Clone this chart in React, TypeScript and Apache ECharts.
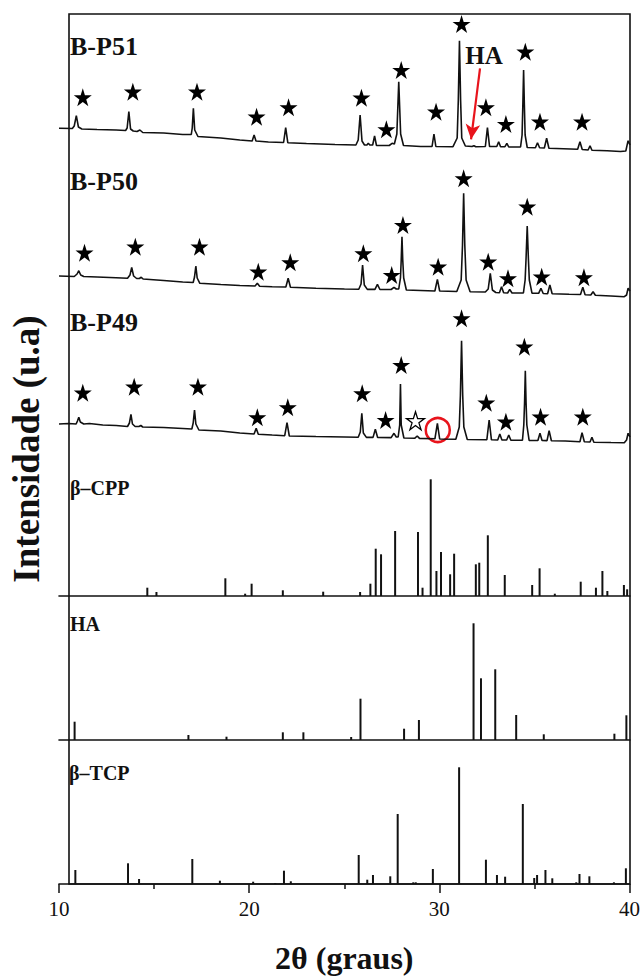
import { useEffect, useRef } from 'react';
import * as echarts from 'echarts';

const SERIF = '"Liberation Serif", "Times New Roman", serif';

// X axis (2θ, degrees)
const X_MIN = 10;
const X_MAX = 40;
const X_TICK = 10;

// Sample traces: [2θ, intensity (a.u.) relative to each trace's own reference]
const p51Profile: number[][] = [
  [10.0,31.7],[10.7,31.5],[10.8,34],[10.91,44.3],[11.02,33],[11.2,31],[12.0,30.5],[13.0,30],[13.5,29.5],[13.58,32],[13.67,48.3],[13.76,31],[13.9,29],[14.1,28.5],[14.25,30],[14.4,27.5],[15.5,27],[16.5,25.5],[16.95,25.5],[17.0,32],[17.06,51.7],[17.13,30],[17.3,23.5],[18.5,22],[19.5,20],[20.15,19],[20.25,25],[20.35,19],[21.0,18],[21.8,17.5],[21.91,32.3],[22.02,17.3],[23.0,16.5],[24.5,15.5],[25.6,15],[25.72,20],[25.82,45],[25.92,19],[26.05,15],[26.18,15],[26.25,16.7],[26.33,15],[26.48,15],[26.58,24],[26.68,14.5],[27.35,14.5],[27.5,16.7],[27.62,16],[27.75,26],[27.85,78.3],[27.95,26],[28.1,14.5],[29.0,13.5],[29.6,13.5],[29.7,26],[29.8,13.5],[30.7,13.3],[30.92,22],[30.98,60],[31.04,119.3],[31.1,60],[31.16,22],[31.35,14],[31.7,13.5],[31.8,14.3],[31.9,13.3],[32.4,13.5],[32.51,32.3],[32.62,13.5],[33.0,13.5],[33.1,18.3],[33.2,13.3],[33.43,13.3],[33.53,16.7],[33.63,13],[34.25,13],[34.33,25],[34.37,55],[34.41,90],[34.45,55],[34.49,25],[34.6,12.5],[35.03,12.3],[35.14,17.3],[35.25,12.2],[35.5,12],[35.62,21.7],[35.74,11.8],[36.5,11.3],[37.25,10.7],[37.37,18.3],[37.49,10.5],[37.8,10],[37.9,14.3],[38.0,9.7],[38.8,9.2],[39.5,8.5],[39.78,9],[39.9,19.3],[40.0,15]
];
const p50Profile: number[][] = [
  [10.0,24],[10.8,23.5],[10.95,26],[11.04,29.3],[11.14,25],[11.3,23.5],[12.0,23],[13.0,22.3],[13.6,21.8],[13.73,25],[13.82,32.7],[13.92,24],[14.08,21.5],[14.22,21.5],[14.32,22.7],[14.42,21],[15.5,19.5],[16.5,18],[17.05,17.5],[17.12,23],[17.19,34],[17.26,22],[17.4,16.7],[18.5,15.5],[19.5,14.5],[20.3,14],[20.42,16.7],[20.54,13.8],[21.2,13.3],[21.92,13],[22.04,21.7],[22.16,12.8],[23.5,11.8],[25.0,11],[25.75,10.7],[25.87,16],[25.95,35],[26.04,15],[26.2,10.6],[26.6,10.6],[26.73,15.7],[26.86,10.5],[27.45,10.5],[27.6,12.7],[27.72,11],[27.85,11],[27.94,22],[27.98,40],[28.02,63.3],[28.06,40],[28.11,22],[28.25,10],[29.0,9.5],[29.75,9],[29.88,20.7],[30.0,9],[30.9,8.5],[31.13,20],[31.2,55],[31.26,106.7],[31.32,55],[31.39,20],[31.6,8.3],[32.4,8],[32.55,11],[32.66,26.7],[32.77,10],[32.95,7.5],[33.14,7.3],[33.25,13.3],[33.36,7.2],[33.57,7],[33.68,10.7],[33.8,7],[34.4,7],[34.49,20],[34.54,42],[34.6,74],[34.66,42],[34.71,20],[34.85,6.8],[35.2,6.7],[35.32,11.7],[35.44,6.5],[35.67,6.3],[35.79,15],[35.91,6.2],[36.8,5.7],[37.4,5.5],[37.52,12.7],[37.64,5.3],[37.94,5],[38.06,8.3],[38.18,4.8],[39.0,4],[39.7,3.3],[39.82,5],[39.9,11.7],[40.0,9]
];
const p49Profile: number[][] = [
  [10.0,21],[10.5,21.5],[10.9,21],[10.97,24],[11.04,27.7],[11.12,23],[11.3,21],[11.6,21.5],[12.3,20],[13.0,19.5],[13.6,18.5],[13.7,22],[13.78,30.7],[13.86,21],[14.0,18.5],[14.2,18.5],[14.3,19.5],[14.4,18],[15.5,17.5],[16.5,16.5],[16.98,16],[17.05,22],[17.12,35],[17.19,21],[17.35,15],[18.5,14],[19.5,12],[20.25,11],[20.36,16.7],[20.47,10.8],[21.2,10],[21.86,9.3],[21.98,22.3],[22.1,9],[23.5,8.5],[25.0,8],[25.72,7.7],[25.83,13],[25.91,31.7],[25.99,12],[26.15,7.6],[26.5,7.6],[26.62,15.7],[26.74,7.5],[27.45,7.4],[27.6,11.7],[27.72,8],[27.82,8],[27.9,20],[27.94,61],[27.98,20],[28.12,7],[28.7,6.8],[28.82,9],[28.94,6.6],[29.75,6.2],[29.88,21.7],[30.0,6],[30.85,5.7],[31.03,18],[31.09,50],[31.15,104.3],[31.21,50],[31.27,18],[31.45,5.5],[32.48,5.3],[32.6,25],[32.72,5.2],[33.05,5],[33.16,11],[33.27,5],[33.52,5],[33.63,10],[33.74,4.8],[34.35,4.8],[34.42,20],[34.46,42],[34.5,74.3],[34.54,42],[34.58,20],[34.7,4.6],[35.16,4.5],[35.27,11.7],[35.38,4.5],[35.64,4.4],[35.75,14.3],[35.87,4.2],[36.6,4],[37.37,3.3],[37.48,12.3],[37.6,3.2],[37.9,3],[38.0,7.7],[38.1,2.8],[39.0,2.5],[39.7,2.3],[39.82,5],[39.9,11.7],[40.0,8]
];

// Star markers (β-TCP phase) per trace: [2θ, intensity]
const p51Stars: number[][] = [[11.25,62.7],[13.88,68.3],[17.25,68.3],[20.38,43.3],[22.06,52.7],[25.89,62.3],[27.2,30.7],[27.98,90],[29.81,48.3],[31.15,136],[32.43,52.7],[33.48,36],[34.5,108.3],[35.27,38.3],[37.48,38.3]];
const p50Stars: number[][] = [[11.34,47.3],[14.01,53.3],[17.38,53.3],[20.47,28.3],[22.15,37.7],[25.99,46.7],[27.48,25],[28.07,75],[29.92,33.3],[31.26,121.7],[32.55,38.3],[33.59,21.7],[34.6,93.3],[35.36,23.3],[37.58,22.7]];
const p49Stars: number[][] = [[11.25,52.3],[13.95,58.3],[17.3,58.3],[20.42,27.7],[22.02,37.7],[25.93,51.7],[27.16,25],[27.98,80],[31.15,126.7],[32.45,42.3],[33.48,23.3],[34.45,98.3],[35.3,28.3],[37.52,28.3]];
const p49OpenStars: number[][] = [[28.73,24.3]];
const p49Circled: number[][] = [[29.9,15]];
// HA arrow on B-P51: from / to [2θ, intensity]
const p51HaArrow: number[][] = [[32.12,91.7],[31.65,20.7]];

// Reference patterns: [2θ, relative intensity]
const cppSticks: number[][] = [[14.64,8.3],[15.12,4],[18.74,17.7],[19.78,2.3],[20.12,12.3],[21.76,5.7],[23.88,4.3],[25.82,4],[26.36,12.3],[26.64,47.3],[26.92,41.7],[27.66,65],[28.86,64],[29.1,8.3],[29.53,116.7],[29.83,25],[30.07,44],[30.55,21.7],[30.76,42.3],[31.9,31.7],[32.08,33.3],[32.53,60.7],[33.42,21],[34.86,11],[35.25,27.7],[36.05,2.3],[37.41,14.3],[38.21,8.3],[38.55,25],[38.81,5],[39.68,11],[39.85,6.7]];
const haSticks: number[][] = [[10.82,18.3],[16.8,5],[18.8,3.3],[21.76,7.7],[22.84,7.7],[25.35,3],[25.84,41.3],[28.13,11.3],[28.91,20],[31.78,116.7],[32.17,61.7],[32.92,70.7],[34.02,25],[35.47,5.7],[39.18,6.3],[39.81,24.7]];
const tcpSticks: number[][] = [[10.86,14],[13.63,20.7],[14.21,5],[17.01,25],[18.46,3.3],[20.21,2.3],[21.37,1],[21.83,13.3],[22.19,2.7],[25.76,29],[26.21,4.3],[26.51,9],[27.42,7.7],[27.81,70],[28.63,1.7],[28.76,1.7],[29.66,15],[31.04,116.7],[32.45,24.3],[33.03,9],[33.46,7.3],[34.39,80],[34.99,6],[35.14,9],[35.58,14],[35.94,5.7],[37.2,1.7],[37.37,10],[37.89,7.7],[39.18,1.7],[39.81,15.7]];

// vertical stacking offsets for the sample traces
const OFFSETS = { p51: 310, p50: 170, p49: 25 };

const STAR = 'path://M50 0 L61.23 34.55 L97.55 34.55 L68.17 55.9 L79.39 90.45 L50 69.1 L20.61 90.45 L31.83 55.9 L2.45 34.55 L38.77 34.55 Z';

const LEFT = 59;
const RIGHT = 13;

function shift(arr: number[][], off: number) {
  return arr.map(([x, y]) => [x, y + off]);
}

function hiddenX(gridIndex: number) {
  return { type: 'value', gridIndex, min: X_MIN, max: X_MAX, interval: X_TICK, show: false };
}
function hiddenY(gridIndex: number, max: number) {
  return { type: 'value', gridIndex, min: 0, max, show: false };
}
function baselineX(gridIndex: number) {
  return {
    type: 'value', gridIndex, min: X_MIN, max: X_MAX, interval: X_TICK,
    axisLine: { show: true, onZero: false, lineStyle: { color: '#111', width: 1.6 } },
    axisTick: { show: false }, axisLabel: { show: false }, splitLine: { show: false },
  };
}

const lineStyle = { color: '#111', width: 1.6 };
const starStyle = { color: '#000', opacity: 1 };

const option: any = {
  animation: false,
  backgroundColor: '#fff',
  grid: [
    { left: LEFT, right: RIGHT, top: 14, bottom: 95, show: true, borderColor: '#111', borderWidth: 1.6, backgroundColor: 'transparent' },
    { left: LEFT, right: RIGHT, top: 14, height: 456 },
    { left: LEFT, right: RIGHT, top: 470, height: 126 },
    { left: LEFT, right: RIGHT, top: 596, height: 144 },
    { left: LEFT, right: RIGHT, top: 740, height: 144 },
  ],
  xAxis: [
    hiddenX(0),
    hiddenX(1),
    baselineX(2),
    baselineX(3),
    {
      type: 'value', gridIndex: 4, min: X_MIN, max: X_MAX, interval: X_TICK,
      axisLine: { show: true, onZero: false, lineStyle: { color: '#111', width: 1.6 } },
      axisTick: { show: true, inside: false, length: 9, lineStyle: { color: '#111', width: 1.5 } },
      minorTick: { show: true, splitNumber: 2, length: 5, lineStyle: { color: '#111', width: 1.5 } },
      axisLabel: { show: true, fontFamily: SERIF, fontSize: 21, color: '#111', margin: 14 },
      splitLine: { show: false },
      minorSplitLine: { show: false },
      name: '2θ (graus)',
      nameLocation: 'middle',
      nameGap: 58,
      nameTextStyle: { fontFamily: SERIF, fontWeight: 'bold', fontSize: 32, color: '#111' },
    },
  ],
  yAxis: [
    {
      type: 'value', gridIndex: 0, min: 0, max: 1,
      axisLine: { show: false }, axisTick: { show: false }, axisLabel: { show: false }, splitLine: { show: false },
      name: 'Intensidade (u.a)',
      nameLocation: 'middle',
      nameGap: 24,
      nameTextStyle: { fontFamily: SERIF, fontWeight: 'bold', fontSize: 37, color: '#111' },
    },
    hiddenY(1, 456),
    hiddenY(2, 126),
    hiddenY(3, 144),
    hiddenY(4, 144),
  ],
  series: [
    {
      type: 'line', xAxisIndex: 1, yAxisIndex: 1, data: shift(p51Profile, OFFSETS.p51),
      showSymbol: false, symbol: 'none', lineStyle,
      markLine: {
        silent: true,
        symbol: ['none', 'arrow'],
        symbolSize: [11, 15],
        label: { show: false },
        lineStyle: { color: '#e8141c', width: 2.2, type: 'solid', opacity: 1 },
        data: [[
          { coord: [p51HaArrow[0][0], p51HaArrow[0][1] + OFFSETS.p51] },
          { coord: [p51HaArrow[1][0], p51HaArrow[1][1] + OFFSETS.p51] },
        ]],
      },
    },
    { type: 'line', xAxisIndex: 1, yAxisIndex: 1, data: shift(p50Profile, OFFSETS.p50), showSymbol: false, symbol: 'none', lineStyle },
    { type: 'line', xAxisIndex: 1, yAxisIndex: 1, data: shift(p49Profile, OFFSETS.p49), showSymbol: false, symbol: 'none', lineStyle },
    { type: 'scatter', xAxisIndex: 1, yAxisIndex: 1, data: shift(p51Stars, OFFSETS.p51), symbol: STAR, symbolSize: 18, itemStyle: starStyle },
    { type: 'scatter', xAxisIndex: 1, yAxisIndex: 1, data: shift(p50Stars, OFFSETS.p50), symbol: STAR, symbolSize: 18, itemStyle: starStyle },
    { type: 'scatter', xAxisIndex: 1, yAxisIndex: 1, data: shift(p49Stars, OFFSETS.p49), symbol: STAR, symbolSize: 18, itemStyle: starStyle },
    { type: 'scatter', xAxisIndex: 1, yAxisIndex: 1, data: shift(p49OpenStars, OFFSETS.p49), symbol: STAR, symbolSize: 18, itemStyle: { color: '#fff', borderColor: '#000', borderWidth: 1.3, opacity: 1 } },
    { type: 'scatter', xAxisIndex: 1, yAxisIndex: 1, data: shift(p49Circled, OFFSETS.p49), symbol: 'circle', symbolSize: 24, itemStyle: { color: 'transparent', borderColor: '#e8141c', borderWidth: 2.5, opacity: 1 } },
    { type: 'bar', xAxisIndex: 2, yAxisIndex: 2, data: cppSticks, barWidth: 2, itemStyle: { color: '#111' } },
    { type: 'bar', xAxisIndex: 3, yAxisIndex: 3, data: haSticks, barWidth: 2, itemStyle: { color: '#111' } },
    { type: 'bar', xAxisIndex: 4, yAxisIndex: 4, data: tcpSticks, barWidth: 2, itemStyle: { color: '#111' } },
  ],
  graphic: [
    { type: 'text', x: 70, y: 46, style: { text: 'B-P51', font: `bold 26px ${SERIF}`, fill: '#111', verticalAlign: 'middle' } },
    { type: 'text', x: 70, y: 181, style: { text: 'B-P50', font: `bold 26px ${SERIF}`, fill: '#111', verticalAlign: 'middle' } },
    { type: 'text', x: 70, y: 322, style: { text: 'B-P49', font: `bold 26px ${SERIF}`, fill: '#111', verticalAlign: 'middle' } },
    { type: 'text', x: 484, y: 55, style: { text: 'HA', font: `bold 25px ${SERIF}`, fill: '#111', align: 'center', verticalAlign: 'middle' } },
    { type: 'text', x: 70, y: 488, style: { text: 'β–CPP', font: `bold 20px ${SERIF}`, fill: '#111', verticalAlign: 'middle' } },
    { type: 'text', x: 70, y: 624, style: { text: 'HA', font: `bold 20px ${SERIF}`, fill: '#111', verticalAlign: 'middle' } },
    { type: 'text', x: 69, y: 773, style: { text: 'β–TCP', font: `bold 20px ${SERIF}`, fill: '#111', verticalAlign: 'middle' } },
  ],
};

export default function App() {
  const ref = useRef<HTMLDivElement>(null);
  useEffect(() => {
    if (!ref.current) return;
    const chart = echarts.init(ref.current, null, { renderer: 'svg' });
    chart.setOption(option);
    return () => chart.dispose();
  }, []);
  return (
    <div
      ref={ref}
      style={{ position: 'absolute', left: 0, top: 0, width: 643, height: 979, background: '#fff' }}
    />
  );
}
